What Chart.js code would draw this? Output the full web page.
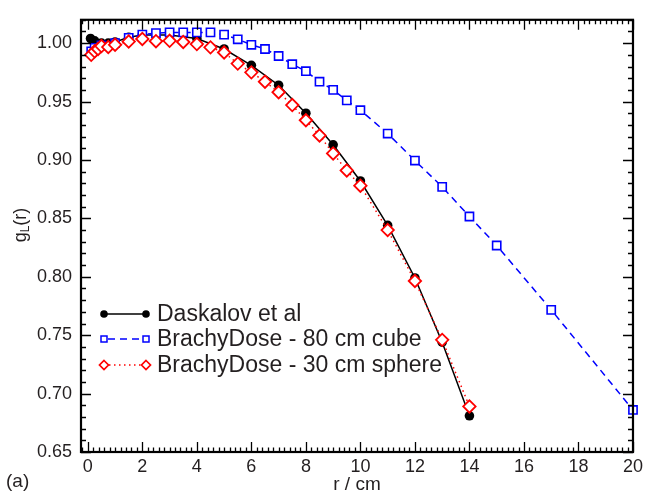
<!DOCTYPE html>
<html>
<head>
<meta charset="utf-8">
<script src="https://cdn.jsdelivr.net/npm/chart.js@4"></script>
<style>
  html, body { margin: 0; padding: 0; background: #fff; }
  #wrap { width: 647px; height: 496px; }
</style>
</head>
<body>
<div id="wrap"><canvas id="myChart" width="647" height="496"></canvas></div>
<script>
// values
const daskalovR = [0.1, 0.25, 0.5, 0.75, 1, 1.5, 2, 3, 4, 5, 6, 7, 8, 9, 10, 11, 12, 13, 14];
const daskalovG = [1.004, 1.002, 1.000, 1.000, 1.001, 1.005, 1.007, 1.007, 1.004, 0.995, 0.981, 0.964, 0.940, 0.913, 0.882, 0.844, 0.799, 0.744, 0.681];

const cubeR = [0.125, 0.25, 0.5, 1, 1.5, 2, 2.5, 3, 3.5, 4, 4.5, 5, 5.5, 6, 6.5, 7, 7.5, 8, 8.5, 9, 9.5, 10, 11, 12, 13, 14, 15, 17, 20];
const cubeG = [0.993, 0.996, 0.998, 1.000, 1.0045, 1.0073, 1.0086, 1.0092, 1.0092, 1.0092, 1.0092, 1.0073, 1.0033, 0.9986, 0.995, 0.989, 0.982, 0.976, 0.967, 0.960, 0.951, 0.9426, 0.9226, 0.8995, 0.877, 0.8516, 0.8268, 0.7717, 0.686];

const sphereR = [0.125, 0.25, 0.375, 0.5, 0.75, 1, 1.5, 2, 2.5, 3, 3.5, 4, 4.5, 5, 5.5, 6, 6.5, 7, 7.5, 8, 8.5, 9, 9.5, 10, 11, 12, 13, 14];
const sphereG = [0.990, 0.993, 0.995, 0.9975, 0.9967, 0.9986, 1.0014, 1.0036, 1.0017, 1.002, 1.001, 0.9992, 0.9964, 0.992, 0.9825, 0.975, 0.967, 0.958, 0.947, 0.934, 0.921, 0.9056, 0.891, 0.878, 0.840, 0.7964, 0.746, 0.689];

const xTicks = [0, 2, 4, 6, 8, 10, 12, 14, 16, 18, 20];
const yTicks = [0.65, 0.70, 0.75, 0.80, 0.85, 0.90, 0.95, 1.00];
const legendLabels = ['Daskalov et al', 'BrachyDose - 80 cm cube', 'BrachyDose - 30 cm sphere'];

const FONT = '"Liberation Sans", Arial, Helvetica, sans-serif';
const TXT = '#231f20';

function pts(xs, ys) { return xs.map((x, i) => ({ x: x, y: ys[i] })); }

// inward ticks on all four sides, frame, legend and titles
const framePlugin = {
  id: 'frame',
  afterDraw(chart) {
    const ctx = chart.ctx, a = chart.chartArea;
    const sx = chart.scales.x, sy = chart.scales.y;
    ctx.save();
    ctx.strokeStyle = '#000';
    ctx.lineWidth = 1.3;
    ctx.beginPath();
    for (let i = -1; i <= 100; i++) {
      const v = i * 0.2;
      const px = Math.round(sx.getPixelForValue(v)) + 0.5;
      const len = (i % 10 === 0) ? 10 : 4.5;
      ctx.moveTo(px, a.bottom); ctx.lineTo(px, a.bottom - len);
      ctx.moveTo(px, a.top); ctx.lineTo(px, a.top + len);
    }
    for (let i = 65; i <= 102; i++) {
      const v = i / 100;
      const py = Math.round(sy.getPixelForValue(v)) + 0.5;
      const len = (i % 5 === 0) ? 10 : 5;
      ctx.moveTo(a.left, py); ctx.lineTo(a.left + len, py);
      ctx.moveTo(a.right, py); ctx.lineTo(a.right - len, py);
    }
    ctx.stroke();
    ctx.lineWidth = 2.2;
    ctx.strokeRect(a.left, a.top, a.right - a.left, a.bottom - a.top);

    // legend
    const rows = [314, 339, 365];
    const x1 = 104, x2 = 146;
    ctx.lineWidth = 1.5;
    // black
    ctx.strokeStyle = '#000'; ctx.fillStyle = '#000'; ctx.setLineDash([]);
    ctx.beginPath(); ctx.moveTo(x1, rows[0]); ctx.lineTo(x2, rows[0]); ctx.stroke();
    [x1, x2].forEach(x => { ctx.beginPath(); ctx.arc(x, rows[0], 3.8, 0, Math.PI * 2); ctx.fill(); });
    // blue
    ctx.strokeStyle = '#0000ff';
    ctx.setLineDash([7, 5]);
    ctx.beginPath(); ctx.moveTo(x1 + 4, rows[1]); ctx.lineTo(x2 - 4, rows[1]); ctx.stroke();
    ctx.setLineDash([]);
    [x1, x2].forEach(x => ctx.strokeRect(x - 3, rows[1] - 3, 6, 6));
    // red
    ctx.strokeStyle = '#ff0000';
    ctx.setLineDash([1.5, 3.5]);
    ctx.beginPath(); ctx.moveTo(x1 + 5, rows[2]); ctx.lineTo(x2 - 5, rows[2]); ctx.stroke();
    ctx.setLineDash([]);
    ctx.lineWidth = 1.7;
    [x1, x2].forEach(x => {
      ctx.beginPath();
      ctx.moveTo(x, rows[2] - 4.5); ctx.lineTo(x + 4.5, rows[2]);
      ctx.lineTo(x, rows[2] + 4.5); ctx.lineTo(x - 4.5, rows[2]); ctx.closePath();
      ctx.stroke();
    });
    ctx.fillStyle = TXT;
    ctx.font = '23px ' + FONT;
    ctx.textBaseline = 'middle';
    ctx.textAlign = 'left';
    legendLabels.forEach((t, i) => ctx.fillText(t, 157, rows[i] + 1));

    // axis titles
    ctx.font = '19px ' + FONT;
    ctx.textAlign = 'center';
    ctx.fillText('r / cm', (a.left + a.right) / 2, 485);
    ctx.textAlign = 'left';
    ctx.fillText('(a)', 6, 482);

    ctx.translate(21, 225);
    ctx.rotate(-Math.PI / 2);
    ctx.font = '18px ' + FONT;
    const wg = ctx.measureText('g').width;
    ctx.font = '12px ' + FONT;
    const wl = ctx.measureText('L').width;
    ctx.font = '18px ' + FONT;
    const wr = ctx.measureText('(r)').width;
    let x0 = -(wg + wl + wr) / 2;
    ctx.fillText('g', x0, 0);
    ctx.font = '12px ' + FONT;
    ctx.fillText('L', x0 + wg, 5);
    ctx.font = '18px ' + FONT;
    ctx.fillText('(r)', x0 + wg + wl, 0);
    ctx.restore();
  }
};

const data = {
  datasets: [
    {
      label: legendLabels[0],
      data: pts(daskalovR, daskalovG),
      borderColor: '#000',
      backgroundColor: '#000',
      borderWidth: 1.5,
      pointStyle: 'circle',
      pointRadius: 4.8,
      pointBorderWidth: 0,
      showLine: true,
      clip: false,
      order: 3
    },
    {
      label: legendLabels[1],
      data: pts(cubeR, cubeG),
      borderColor: '#0000ff',
      backgroundColor: '#ffffff',
      borderWidth: 1.5,
      borderDash: [7, 5],
      pointStyle: 'rect',
      pointRadius: 5.8,
      pointBorderWidth: 1.6,
      showLine: true,
      clip: false,
      order: 2
    },
    {
      label: legendLabels[2],
      data: pts(sphereR, sphereG),
      borderColor: '#ff0000',
      backgroundColor: '#ffffff',
      borderWidth: 1.5,
      borderDash: [1.5, 3.5],
      pointStyle: 'rectRot',
      pointRadius: 6.2,
      pointBorderWidth: 1.8,
      showLine: true,
      clip: false,
      order: 1
    }
  ]
};

const config = {
  type: 'scatter',
  data: data,
  options: {
    responsive: false,
    animation: false,
    layout: { padding: { top: 10, right: 9, left: 0, bottom: 0 } },
    plugins: { legend: { display: false }, tooltip: { enabled: false } },
    scales: {
      x: {
        type: 'linear',
        min: -0.25,
        max: 20,
        grid: { display: false, drawTicks: false },
        border: { display: false },
        afterBuildTicks: s => { s.ticks = xTicks.map(v => ({ value: v })); },
        afterFit: s => { s.height = 44; },
        ticks: {
          color: TXT,
          padding: 4,
          maxRotation: 0,
          font: { family: FONT, size: 18 },
          callback: v => String(v)
        }
      },
      y: {
        type: 'linear',
        min: 0.65,
        max: 1.02,
        grid: { display: false, drawTicks: false },
        border: { display: false },
        afterBuildTicks: s => { s.ticks = yTicks.map(v => ({ value: v })); },
        afterFit: s => { s.width = 81; },
        ticks: {
          color: TXT,
          padding: 9,
          font: { family: FONT, size: 18 },
          callback: v => Number(v).toFixed(2)
        }
      }
    }
  },
  plugins: [framePlugin]
};

const myChart = new Chart(document.getElementById('myChart'), config);
</script>
</body>
</html>
